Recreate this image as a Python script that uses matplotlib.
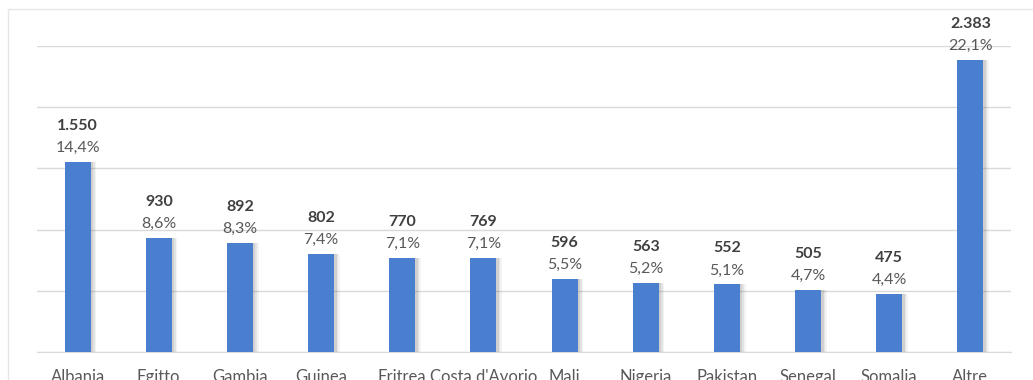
import matplotlib
matplotlib.use("Agg")
import matplotlib.pyplot as plt
from matplotlib.patches import Rectangle

# Paesi di provenienza: valori assoluti e quota percentuale
countries = ["Albania", "Egitto", "Gambia", "Guinea", "Eritrea", "Costa d'Avorio",
             "Mali", "Nigeria", "Pakistan", "Senegal", "Somalia", "Altre"]
values = [1550, 930, 892, 802, 770, 769, 596, 563, 552, 505, 475, 2383]
shares = [14.4, 8.6, 8.3, 7.4, 7.1, 7.1, 5.5, 5.2, 5.1, 4.7, 4.4, 22.1]

BAR = "#4a7fcf"
GRID = "#d9d9d9"
VAL_C = "#404040"
PCT_C = "#595959"

plt.rcParams["font.family"] = ["Lato", "DejaVu Sans"]

W, H = 1033, 380
fig = plt.figure(figsize=(W / 100, H / 100), dpi=100)
fig.patches.append(Rectangle((8 / W, -0.1), 1.1, (380 - 9) / H + 0.1,
                             transform=fig.transFigure, fill=False,
                             edgecolor="#e6e6e6", linewidth=1.0))

ax = fig.add_axes([37 / W, (H - 352) / H, (1011 - 37) / W, (352 - 46) / H])
x = list(range(len(countries)))

# soft drop shadow to the right of each bar
for dx, a in [(0.07, 0.08), (0.05, 0.12), (0.03, 0.16)]:
    ax.bar([i + dx for i in x], values, width=0.32, color="#707070",
           alpha=a, zorder=2, linewidth=0)
ax.bar(x, values, width=0.32, color=BAR, zorder=3, linewidth=0)

for i, (v, s) in enumerate(zip(values, shares)):
    ax.annotate(f"{s:.1f}%".replace(".", ","), (i, v), xytext=(0, 5),
                textcoords="offset points", ha="center", va="bottom",
                fontsize=11.5, color=PCT_C, annotation_clip=False)
    ax.annotate(f"{v:,}".replace(",", "."), (i, v), xytext=(0, 21),
                textcoords="offset points", ha="center", va="bottom",
                fontsize=11.5, color=VAL_C, weight="bold", annotation_clip=False)

ax.set_xlim(-0.5, len(countries) - 0.5)
ax.set_ylim(0, 2500)
ax.set_yticks([0, 500, 1000, 1500, 2000, 2500])
ax.yaxis.grid(True, color=GRID, linewidth=1.0, zorder=0)
ax.set_axisbelow(True)
ax.tick_params(axis="y", left=False, labelleft=False)
ax.set_xticks(x)
ax.set_xticklabels(countries, fontsize=12, color=PCT_C)
ax.tick_params(axis="x", length=0, pad=12)
for sp in ["top", "right", "left"]:
    ax.spines[sp].set_visible(False)
ax.spines["bottom"].set_color(GRID)

fig.savefig("out.png", dpi=100)
